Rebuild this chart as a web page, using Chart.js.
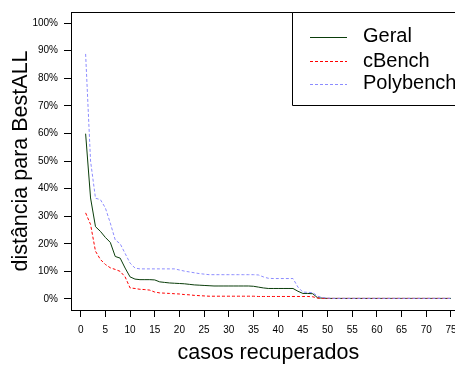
<!DOCTYPE html>
<html><head><meta charset="utf-8">
<script src="https://cdn.jsdelivr.net/npm/chart.js@4/dist/chart.umd.min.js"></script>
<style>
html,body{margin:0;padding:0;overflow:hidden;background:#fff;width:455px;height:367px}
#wrap{width:470px;height:367px}
canvas{display:block}
</style></head>
<body><div id="wrap"><canvas id="c" width="470" height="367"></canvas></div>
<script>
const casos = [1,2,3,4,5,6,7,8,9,10,11,12,13,14,15,16,17,18,19,20,21,22,23,24,25,26,27,28,29,30,31,32,33,34,35,36,37,38,39,40,41,42,43,44,45,46,47,48,49,50,51,52,53,54,55,56,57,58,59,60,61,62,63,64,65,66,67,68,69,70,71,72,73,74,75];
const geral = [59.9,36.6,26.2,24.5,22.3,20.5,15.4,14.8,11.2,8.0,7.2,7.0,7.0,7.0,6.9,6.2,6.0,5.8,5.7,5.6,5.5,5.3,5.1,5.0,4.9,4.8,4.7,4.7,4.7,4.7,4.7,4.7,4.7,4.7,4.6,4.3,4.0,3.8,3.8,3.8,3.8,3.8,3.8,2.8,2.0,2.0,1.9,0.4,0.3,0.2,0.2,0.2,0.2,0.2,0.2,0.2,0.2,0.2,0.2,0.2,0.2,0.2,0.2,0.2,0.2,0.2,0.2,0.2,0.2,0.2,0.2,0.2,0.2,0.2,0.2];
const cbench = [31.2,27.0,17.3,14.3,12.5,11.3,10.7,10.0,8.0,4.0,3.8,3.5,3.4,3.2,2.5,2.2,2.1,2.0,1.9,1.8,1.6,1.5,1.3,1.2,1.1,1.0,1.0,1.0,1.0,1.0,1.0,1.0,1.0,1.0,1.0,0.9,0.9,0.9,0.9,0.9,0.9,0.9,0.9,0.9,0.9,0.9,0.8,0.3,0.2,0.2,0.2,0.2,0.2,0.2,0.2,0.2,0.2,0.2,0.2,0.2,0.2,0.2,0.2,0.2,0.2,0.2,0.2,0.2,0.2,0.2,0.2,0.2,0.2,0.2,0.2];
const polybench = [88.8,50.0,36.5,36.0,33.0,27.5,21.4,20.0,16.5,13.0,11.2,10.9,10.9,10.9,10.9,10.9,10.9,10.9,10.9,10.5,10.1,9.8,9.5,9.2,9.0,8.8,8.8,8.8,8.8,8.8,8.8,8.8,8.8,8.8,8.8,8.7,8.0,7.5,7.4,7.4,7.4,7.4,7.4,4.3,2.5,2.4,2.3,1.0,0.5,0.3,0.2,0.2,0.2,0.2,0.2,0.2,0.2,0.2,0.2,0.2,0.2,0.2,0.2,0.2,0.2,0.2,0.2,0.2,0.2,0.2,0.2,0.2,0.2,0.2,0.2];
const seriesNames = ['Geral','cBench','Polybench'];
const xTicks = [0,5,10,15,20,25,30,35,40,45,50,55,60,65,70,75];
const yTicks = [0,10,20,30,40,50,60,70,80,90,100];
const xTitle = 'casos recuperados';
const yTitle = 'distância para BestALL';

const FONT = "'Liberation Sans', Arial, Helvetica, sans-serif";
const toPts = vals => vals.map((v, i) => ({x: casos[i], y: v}));

const boxPlugin = {
  id: 'box',
  afterDraw(chart) {
    const {ctx, chartArea: ca} = chart;
    ctx.save();
    ctx.strokeStyle = '#000';
    ctx.lineWidth = 1;
    ctx.beginPath();
    ctx.moveTo(Math.round(ca.left) + 0.5, Math.round(ca.top) + 0.5);
    ctx.lineTo(Math.round(ca.right) + 0.5, Math.round(ca.top) + 0.5);
    ctx.lineTo(Math.round(ca.right) + 0.5, Math.round(ca.bottom) + 0.5);
    ctx.stroke();
    // legend
    const L = Math.round(ca.right - 173.3) + 0.5;
    const T = Math.round(ca.top) + 0.5;
    const B = T + 93;
    const R = ca.right;
    ctx.fillStyle = '#fff';
    ctx.fillRect(L, T, R - L, B - T);
    ctx.beginPath();
    ctx.moveTo(R + 1, T); ctx.lineTo(L, T); ctx.lineTo(L, B); ctx.lineTo(R + 1, B);
    ctx.stroke();
    const rows = [24.3, 48.7, 71.3];
    const dsOrder = [0, 1, 2];
    dsOrder.forEach((di, k) => {
      const ds = chart.data.datasets[di];
      const y = Math.round(T + rows[k]) + 0.5;
      ctx.strokeStyle = ds.borderColor;
      ctx.lineWidth = 1;
      ctx.setLineDash(ds.borderDash || []);
      ctx.beginPath();
      ctx.moveTo(L + 17.5, y); ctx.lineTo(L + 54.5, y);
      ctx.stroke();
      ctx.setLineDash([]);
      ctx.fillStyle = '#000';
      ctx.font = '20px ' + FONT;
      ctx.textBaseline = 'middle';
      ctx.textAlign = 'left';
      ctx.fillText(ds.label, L + 70.5, T + rows[k]);
    });
    ctx.restore();
  }
};

new Chart(document.getElementById('c'), {
  type: 'line',
  data: {
    datasets: [
      {label: seriesNames[0], data: toPts(geral), borderColor: '#0a3d0a', borderWidth: 1, order: 2},
      {label: seriesNames[1], data: toPts(cbench), borderColor: '#ff0000', borderWidth: 1, borderDash: [3,2], order: 1},
      {label: seriesNames[2], data: toPts(polybench), borderColor: '#8c8cff', borderWidth: 1, borderDash: [3,2], order: 0}
    ]
  },
  options: {
    responsive: false,
    devicePixelRatio: 1,
    animation: false,
    events: [],
    elements: {point: {radius: 0}, line: {tension: 0, fill: false}},
    layout: {padding: {top: 8, right: 4.4, left: 0, bottom: 0}},
    plugins: {legend: {display: false}, tooltip: {enabled: false}},
    scales: {
      x: {
        type: 'linear', min: -1.96, max: 77.96,
        afterFit: s => { s.height = 57; },
        afterBuildTicks: s => { s.ticks = xTicks.map(v => ({value: v})); },
        grid: {drawOnChartArea: false, drawTicks: true, tickLength: 7, color: '#000', lineWidth: 1},
        border: {display: true, color: '#000', width: 1},
        ticks: {autoSkip: false, maxRotation: 0, padding: 7, color: '#000', font: {family: FONT, size: 10}},
        title: {display: true, text: xTitle, color: '#000', font: {family: FONT, size: 21.5}, padding: {top: 0, bottom: 0.6}}
      },
      y: {
        type: 'linear', min: -4, max: 104,
        afterFit: s => { s.width = 71; },
        afterBuildTicks: s => { s.ticks = yTicks.map(v => ({value: v})); },
        grid: {drawOnChartArea: false, drawTicks: true, tickLength: 7, color: '#000', lineWidth: 1},
        border: {display: true, color: '#000', width: 1},
        ticks: {autoSkip: false, padding: 6, color: '#000', font: {family: FONT, size: 10}, callback: v => v + '%'},
        title: {display: true, text: yTitle, color: '#000', font: {family: FONT, size: 21.5}, padding: {top: 8.4, bottom: 0}}
      }
    }
  },
  plugins: [boxPlugin]
});
</script>
</body></html>
